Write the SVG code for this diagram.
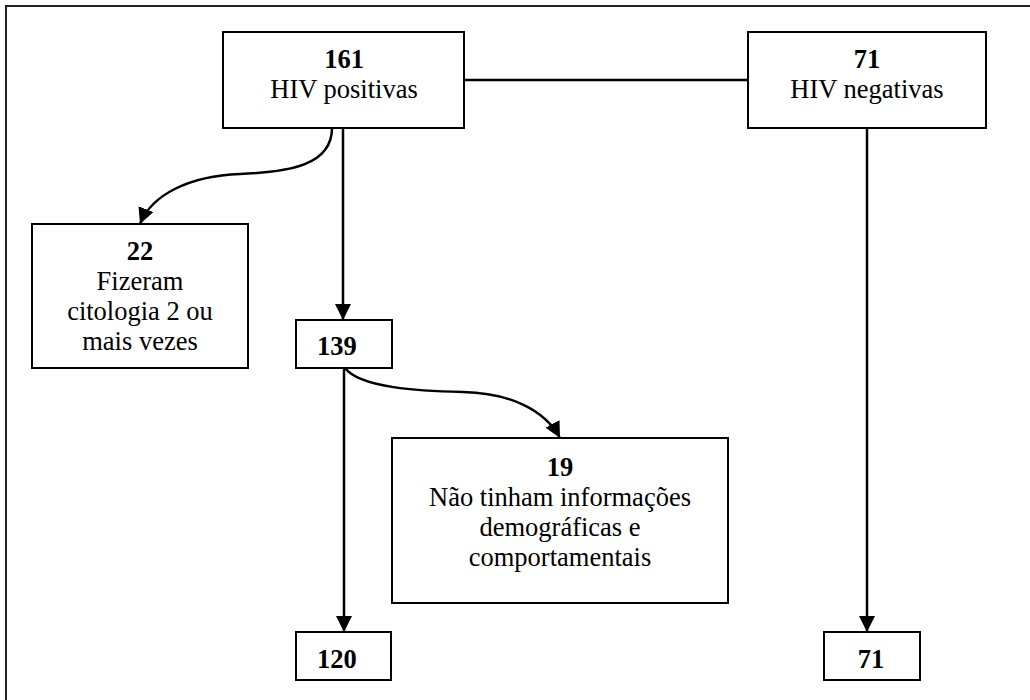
<svg xmlns="http://www.w3.org/2000/svg" width="1030" height="700" viewBox="0 0 1030 700">
<style>
.box{fill:#fff;stroke:#000;stroke-width:2}
.t{font-family:"Liberation Serif","Times New Roman",serif;font-size:26.5px;fill:#000}
.c{text-anchor:middle}
.b{font-weight:bold}
.con{fill:none;stroke:#000;stroke-width:2.5}
</style>
<defs>
<marker id="ah" markerUnits="userSpaceOnUse" markerWidth="16" markerHeight="16" viewBox="0 0 16 16" refX="16" refY="8" orient="auto">
<path d="M0,0 L16,8 L0,16 Z" fill="#000"/>
</marker>
</defs>
<rect x="6" y="6" width="1040" height="710" fill="#fff" stroke="#222" stroke-width="2"/>
<g id="connectors">
<line class="con" x1="464" y1="80" x2="748" y2="80"/>
<line class="con" x1="343" y1="128" x2="343" y2="320" marker-end="url(#ah)"/>
<path class="con" d="M332,128 C332,165 290,172 240,174 C190,176 152,194 140,224" marker-end="url(#ah)"/>
<line class="con" x1="344" y1="368" x2="344" y2="632" marker-end="url(#ah)"/>
<path class="con" d="M345,368 C360,388 420,391 463,392 C510,393 545,410 560,438" marker-end="url(#ah)"/>
<line class="con" x1="867" y1="128" x2="867" y2="632" marker-end="url(#ah)"/>
</g>
<g id="n161">
<rect class="box" x="223" y="32" width="241" height="96"/>
<text class="t c b" x="344" y="68">161</text>
<text class="t c" x="344" y="98">HIV positivas</text>
</g>
<g id="n71top">
<rect class="box" x="748" y="32" width="238" height="96"/>
<text class="t c b" x="867" y="68">71</text>
<text class="t c" x="867" y="98">HIV negativas</text>
</g>
<g id="n22">
<rect class="box" x="32" y="224" width="216" height="144"/>
<text class="t c b" x="140" y="260">22</text>
<text class="t c" x="140" y="290">Fizeram</text>
<text class="t c" x="140" y="320">citologia 2 ou</text>
<text class="t c" x="140" y="350">mais vezes</text>
</g>
<g id="n139">
<rect class="box" x="296" y="320" width="96" height="48"/>
<text class="t b" x="317" y="355">139</text>
</g>
<g id="n19">
<rect class="box" x="392" y="438" width="336" height="165"/>
<text class="t c b" x="560" y="476">19</text>
<text class="t c" x="560" y="506">Não tinham informações</text>
<text class="t c" x="560" y="536">demográficas e</text>
<text class="t c" x="560" y="566">comportamentais</text>
</g>
<g id="n120">
<rect class="box" x="296" y="632" width="95" height="48"/>
<text class="t b" x="317" y="668">120</text>
</g>
<g id="n71bottom">
<rect class="box" x="824" y="632" width="96" height="48"/>
<text class="t c b" x="871" y="668">71</text>
</g>
</svg>
